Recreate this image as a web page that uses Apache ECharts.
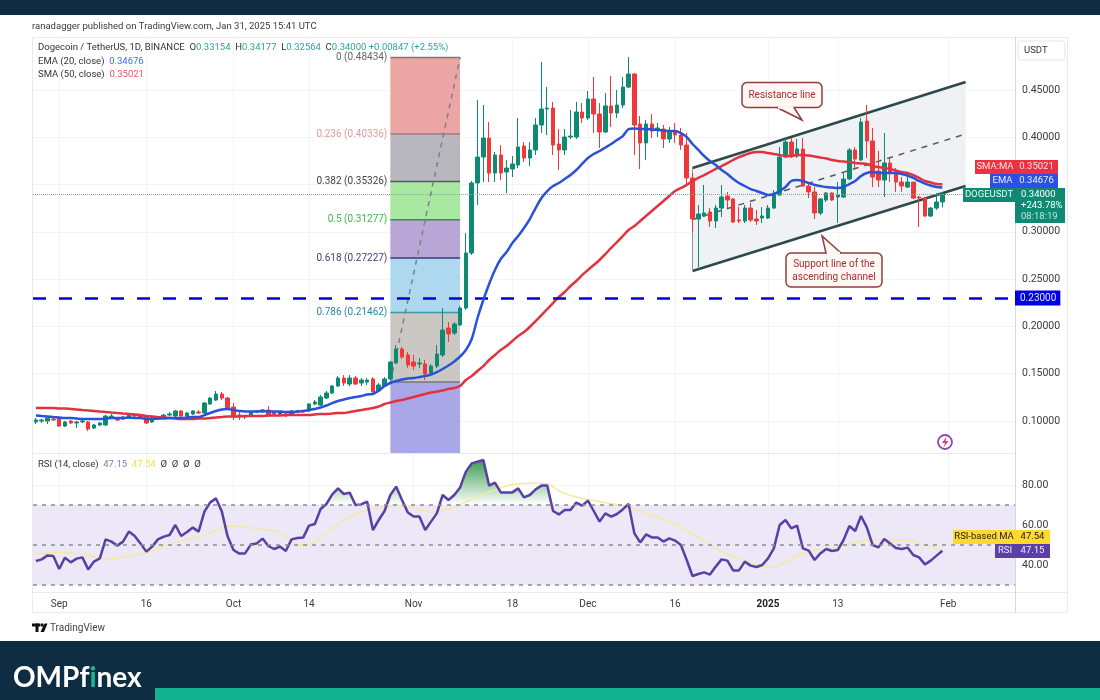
<!DOCTYPE html>
<html>
<head>
<meta charset="utf-8">
<title>DOGEUSDT</title>
<script src="https://cdn.jsdelivr.net/npm/echarts@6/dist/echarts.min.js"></script>
<style>
  html, body { margin: 0; padding: 0; background: #fff; }
  #chart { width: 1100px; height: 700px; }
</style>
</head>
<body>
<div id="chart"></div>
<script>
// daily candles, first one is 2024-08-28
const opens = [
  .0990,.1000,.1000,.1021,.1032,.0947,.1000,.0979,.0990,.0990,.0926,.0958,.0958,.1032,.1032,.1021,.1032,.1063,.1053,.1042,
  .0990,.1021,.1042,.1063,.1053,.1106,.1053,.1074,.1095,.1085,.1180,.1222,.1285,.1243,.1148,.1063,.1042,.1053,.1095,.1095,
  .1116,.1095,.1074,.1074,.1063,.1095,.1106,.1106,.1180,.1169,.1243,.1296,.1370,.1454,.1391,.1454,.1402,.1412,.1444,.1317,
  .1370,.1444,.1613,.1761,.1698,.1624,.1603,.1603,.1507,.1581,.1698,.1983,.1930,.2015,.2194,.2776,.3516,.3790,.3991,.3621,
  .3812,.3632,.3664,.3706,.3907,.3780,.3865,.4129,.4298,.4308,.3928,.3865,.4002,.4002,.4266,.4203,.4404,.4245,.4055,.4330,
  .4256,.4340,.4530,.4668,.4139,.3939,.4139,.4086,.4086,.3981,.4065,.4023,.3917,.3569,.3135,.3167,.3209,.3114,.3251,.3378,
  .3347,.3125,.3114,.3251,.3135,.3146,.3146,.3251,.3389,.3790,.3949,.3801,.3875,.3484,.3421,.3199,.3336,.3410,.3368,.3368,
  .3558,.3865,.3759,.4171,.3960,.3643,.3547,.3727,.3632,.3526,.3473,.3526,.3368,.3357,.3167,.3251,.33154
];
const closes = [
  .1011,.1011,.1032,.1011,.0947,.0990,.0979,.0990,.1000,.0916,.0958,.0979,.1053,.1053,.1011,.1042,.1074,.1053,.1032,.0979,
  .1032,.1042,.1063,.1074,.1106,.1053,.1085,.1106,.1085,.1190,.1243,.1285,.1243,.1137,.1042,.1053,.1053,.1095,.1106,.1116,
  .1063,.1074,.1095,.1053,.1106,.1106,.1095,.1180,.1201,.1254,.1296,.1370,.1454,.1402,.1454,.1391,.1433,.1433,.1307,.1381,
  .1444,.1624,.1761,.1677,.1592,.1581,.1613,.1497,.1581,.1708,.1962,.1920,.2025,.2194,.2776,.3516,.3790,.3991,.3621,.3812,
  .3621,.3674,.3717,.3896,.3780,.3865,.4129,.4298,.4308,.3917,.3865,.4002,.4012,.4266,.4203,.4404,.4245,.4055,.4330,.4256,
  .4340,.4530,.4668,.4129,.3939,.4139,.4065,.4097,.3981,.4065,.4023,.3917,.3569,.3135,.3188,.3199,.3114,.3251,.3368,.3336,
  .3103,.3114,.3251,.3125,.3114,.3167,.3251,.3389,.3790,.3949,.3801,.3875,.3484,.3421,.3199,.3347,.3410,.3336,.3389,.3558,
  .3865,.3769,.4160,.3960,.3579,.3547,.3727,.3632,.3526,.3484,.3526,.3357,.3357,.3167,.3251,.3315,.34000
];
const lows = [
  .0968,.0979,.0968,.1000,.0937,.0937,.0968,.0926,.0979,.0894,.0916,.0947,.0947,.1021,.1000,.1011,.1021,.1042,.1021,.0968,
  .0979,.1011,.1032,.1053,.1042,.1042,.1042,.1063,.1074,.1074,.1169,.1211,.1222,.1127,.1011,.1011,.1021,.1042,.1085,.1085,
  .1042,.1063,.1063,.1042,.1053,.1085,.1085,.1095,.1169,.1159,.1232,.1285,.1360,.1370,.1370,.1381,.1370,.1381,.1296,.1307,
  .1360,.1433,.1603,.1656,.1560,.1539,.1560,.1433,.1486,.1560,.1677,.1835,.1909,.2004,.2173,.2755,.3283,.3526,.3526,.3526,
  .3547,.3410,.3579,.3674,.3738,.3695,.3812,.4044,.4023,.3812,.3653,.3812,.3981,.3981,.4150,.4182,.4044,.3886,.4044,.4108,
  .4203,.4308,.4520,.3812,.3664,.3759,.3991,.4002,.3886,.3939,.3939,.3865,.3495,.2998,.2628,.3156,.3051,.3040,.3156,.3251,
  .3093,.3093,.3093,.3103,.3072,.3093,.3135,.3241,.3378,.3780,.3780,.3780,.3473,.3357,.3135,.3177,.3315,.3325,.3093,.3357,
  .3547,.3674,.3748,.3780,.3473,.3473,.3368,.3526,.3421,.3421,.3463,.3347,.3051,.3156,.3156,.3230,.32564
];
const highs = [
  .1032,.1021,.1042,.1032,.1042,.1000,.1011,.1000,.1011,.1000,.0968,.0990,.1063,.1074,.1042,.1053,.1085,.1074,.1063,.1053,
  .1042,.1053,.1074,.1095,.1116,.1116,.1095,.1116,.1116,.1201,.1254,.1317,.1307,.1254,.1190,.1095,.1063,.1106,.1116,.1127,
  .1159,.1106,.1106,.1085,.1116,.1116,.1116,.1190,.1222,.1275,.1317,.1381,.1476,.1486,.1486,.1476,.1454,.1454,.1465,.1402,
  .1465,.1634,.1803,.1782,.1730,.1698,.1666,.1645,.1603,.1803,.2194,.2046,.2046,.2215,.2987,.3537,.4393,.4340,.4160,.3843,
  .3917,.3759,.3801,.4203,.3949,.3949,.4203,.4795,.4530,.4372,.4086,.4086,.4287,.4372,.4361,.4488,.4636,.4361,.4467,.4647,
  .4499,.4636,.4848,.4679,.4224,.4182,.4245,.4150,.4129,.4108,.4150,.4097,.4044,.3621,.3283,.3495,.3251,.3283,.3495,.3421,
  .3357,.3262,.3283,.3304,.3230,.3262,.3283,.3442,.3896,.3991,.3991,.3981,.3991,.3505,.3473,.3357,.3421,.3421,.3526,.3632,
  .3886,.3896,.4203,.4340,.4097,.3854,.4044,.3780,.3674,.3579,.3579,.3526,.3378,.3368,.3262,.3410,.34177
];

const ema20 = [
  .1058,.1053,.1048,.1042,.1037,.1032,.1032,.1026,.1021,.1021,.1021,.1021,.1026,.1032,.1032,.1032,.1037,.1032,.1032,.1021,
  .1021,.1026,.1026,.1032,.1032,.1032,.1037,.1042,.1042,.1063,.1085,.1106,.1122,.1127,.1116,.1106,.1100,.1100,.1100,.1106,
  .1100,.1100,.1100,.1095,.1095,.1100,.1106,.1116,.1127,.1143,.1164,.1190,.1211,.1227,.1243,.1254,.1264,.1280,.1285,.1322,
  .1370,.1402,.1423,.1439,.1449,.1454,.1465,.1476,.1492,.1518,.1550,.1587,.1629,.1682,.1751,.1867,.2089,.2279,.2448,.2596,
  .2712,.2786,.2881,.2955,.3040,.3135,.3251,.3357,.3431,.3484,.3516,.3558,.3600,.3653,.3717,.3780,.3822,.3854,.3891,.3928,
  .3970,.4012,.4086,.4092,.4086,.4086,.4081,.4076,.4071,.4065,.4065,.4044,.4002,.3928,.3865,.3801,.3748,.3706,.3653,.3611,
  .3558,.3516,.3484,.3452,.3431,.3410,.3389,.3399,.3431,.3473,.3537,.3547,.3537,.3516,.3495,.3484,.3473,.3468,.3463,.3473,
  .3505,.3537,.3590,.3621,.3632,.3621,.3621,.3621,.3621,.3611,.3595,.3569,.3537,.3510,.3489,.3473,.34676
];
const sma50 = [
  .1137,.1137,.1137,.1137,.1132,.1132,.1127,.1122,.1116,.1111,.1106,.1100,.1095,.1090,.1085,.1079,.1074,.1069,.1063,.1053,
  .1048,.1042,.1037,.1032,.1026,.1021,.1021,.1021,.1026,.1026,.1032,.1037,.1042,.1048,.1048,.1048,.1053,.1053,.1053,.1053,
  .1058,.1058,.1058,.1063,.1063,.1063,.1063,.1063,.1069,.1074,.1074,.1079,.1085,.1085,.1095,.1106,.1116,.1127,.1137,.1153,
  .1180,.1196,.1211,.1222,.1238,.1254,.1270,.1285,.1301,.1312,.1322,.1338,.1349,.1370,.1433,.1476,.1529,.1581,.1645,.1698,
  .1751,.1793,.1846,.1898,.1941,.1994,.2057,.2120,.2184,.2247,.2311,.2364,.2427,.2480,.2543,.2596,.2649,.2702,.2765,.2829,
  .2892,.2955,.3019,.3061,.3114,.3167,.3220,.3273,.3325,.3378,.3431,.3463,.3495,.3537,.3569,.3600,.3632,.3664,.3695,.3727,
  .3759,.3790,.3812,.3833,.3843,.3843,.3833,.3822,.3812,.3801,.3801,.3812,.3812,.3806,.3796,.3785,.3775,.3759,.3748,.3743,
  .3738,.3727,.3722,.3717,.3695,.3685,.3674,.3664,.3648,.3632,.3621,.3600,.3569,.3537,.3521,.3505,.35021
];
const rsi = [
  42,42.8,44.8,44.5,38,43.7,41.3,43.2,43.8,37.8,41.7,43.3,52.8,51.7,49.7,51.7,56.7,54.5,50.8,46.7,
  49.2,52.8,54.2,55,60,54.5,56.5,58.7,56.7,66.7,71.3,73.3,66.7,54.2,47.5,45.7,45.8,50.3,50.8,53.2,
  49.5,48,49.2,47,52.8,53.5,53.7,59.7,60.5,68,70.5,75.3,78.3,75.5,76.2,70,70.3,71.7,57.5,62.5,
  67,75,79.2,72.5,66.3,64.2,64.2,57.5,61.7,65.8,75,72.5,75,78.8,86.7,90.8,91.7,92.5,79.7,81.2,
  76.3,76.2,76.3,78.3,73.8,75,77.8,79.7,79.7,67,65.3,67.5,67.5,71.2,69.7,72.2,67,61.7,65.8,64.2,
  65.5,67.8,70.5,55.8,51.3,55.3,53.8,53.8,51.7,53.3,52.2,50,42.5,34.5,35.5,36.3,35.2,39.2,42.8,42.2,
  37.3,37.3,41.7,39.7,39,40,43.3,48.3,60,62.5,58.3,59.7,48.3,47.2,42.5,45.8,48,47,47.5,52.5,
  59.5,57,64.5,58.8,50,48.8,53,50.8,48.5,48,48.7,45,43.8,40.3,42.2,44.7,47.15
];
const rsiMa = [
  45.2,45.6,46,46.3,46.3,46.2,46,45.8,45.5,45,44.3,43,42.6,43,43.4,44,44.4,45,45.5,46,
  47,48,49.2,50.2,51.2,52,52.8,53.4,54,54.8,56,57.3,58.7,59.4,59.5,59.2,58.9,58.6,58.3,57.9,
  57.5,57,56.5,54.2,52,50,50,50.3,51.5,53.5,56,58.3,60.5,62.5,64,65.5,66.5,67.5,68.3,68.8,
  69.3,69.8,70,69.6,69,68.5,67.8,67,66.5,66.8,67.4,68,69,70.2,71.5,72.8,74,75.3,76.5,77.5,
  78.5,79.5,80.2,80.5,80.8,80.9,80.9,80.8,80.8,79,77,75.8,74.7,74,73.3,72.7,72.2,71.7,71.1,70.6,
  70.2,69.7,69.2,68,67,66,65,64,63,61.8,60.5,59.3,57,55.5,53.5,52,50,48,46.8,45.5,
  44.3,43,41.8,40.8,40.2,39.7,39,38.7,40,41.5,43,44.5,46,46.8,47.2,47.7,48,48.3,49,49.7,
  50.5,51.3,52,52.5,52.8,52.7,52.5,52.5,52.5,52.5,52.4,51.8,51,50.2,49.3,48.4,47.54
];

// fib retracement, drawn over these two days
const fibDays = [61, 73];
const fibPrices = [.48434, .40336, .35326, .31277, .27227, .21462, .1412, .0662];
const fibRatios = ['0', '0.236', '0.382', '0.5', '0.618', '0.786'];
const fibFills = ['#eba5a5', '#b7b7bd', '#a8e8a0', '#b8a6d6', '#aed8f0', '#cbc8c4', '#a9a7e8'];
const fibLines = ['#807878', '#a07a86', '#555a5e', '#3e8a4e', '#3a3a78', '#3a9aa6', '#77777a'];
const fibTextColors = ['#666666', '#e79a9a', '#444444', '#3db84a', '#4a3a7a', '#2a86a8'];

// ascending channel
const channelDays = [113, 160];
const channelUpper = [.3674, .4583];
const channelLower = [.2586, .3484];
const channelMid = [.3130, .4034];

const supportPrice = .23;
const lastPrice = .34;

const priceTicks = [.10, .15, .20, .25, .30, .35, .40, .45];
const shownPriceTicks = [.10, .15, .20, .25, .30, .40, .45];
const rsiTicks = [40, 60, 80];
const rsiLevels = [70, 50, 30];

const timeTickDays = ['2024-09-01', '2024-09-16', '2024-10-01', '2024-10-14', '2024-11-01', '2024-11-18',
  '2024-12-01', '2024-12-16', '2025-01-01', '2025-01-13', '2025-02-01'];
const timeTickTexts = ['Sep', '16', 'Oct', '14', 'Nov', '18', 'Dec', '16', '2025', '13', 'Feb'];

// category axis runs past the last candle, up to the price scale
const days = [];
for (let i = 0; i < 169; i++) {
  days.push(new Date(Date.UTC(2024, 7, 28 + i)).toISOString().slice(0, 10));
}

const UI_FONT = 'Roboto, "Liberation Sans", sans-serif';
const SMALL_FONT = '9.5px ' + UI_FONT;
const GREEN = '#0e8a72';
const RED = '#f0383b';
const GRID_LINE = '#f3f4f7';
const FRAME = '#e8eaee';

const candles = opens.map((o, i) => [o, closes[i], lows[i], highs[i]]);

function isTimeTick(index) {
  return timeTickDays.indexOf(days[index]) !== -1;
}

function timeLabel(value) {
  const text = timeTickTexts[timeTickDays.indexOf(value)];
  return text === '2025' ? '{bold|2025}' : text;
}

function renderFib(params, api) {
  const level = params.dataIndex;
  const leftTop = api.coord([fibDays[0], fibPrices[level]]);
  const rightBottom = api.coord([fibDays[1], fibPrices[level + 1]]);
  const children = [{
    type: 'rect',
    shape: { x: leftTop[0], y: leftTop[1], width: rightBottom[0] - leftTop[0], height: rightBottom[1] - leftTop[1] },
    style: { fill: fibFills[level] }
  }, {
    type: 'line',
    shape: { x1: leftTop[0], y1: leftTop[1], x2: rightBottom[0], y2: leftTop[1] },
    style: { stroke: fibLines[level], lineWidth: 1.5 }
  }];
  if (level < fibRatios.length) {
    children.push({
      type: 'text',
      style: {
        text: fibRatios[level] + ' (' + fibPrices[level].toFixed(5) + ')',
        x: leftTop[0] - 3,
        y: leftTop[1],
        align: 'right',
        verticalAlign: 'middle',
        fill: fibTextColors[level],
        font: '10px ' + UI_FONT
      }
    });
  }
  return { type: 'group', children: children };
}

function renderFibTrend(params, api) {
  const from = api.coord([fibDays[0], fibPrices[6]]);
  const to = api.coord([fibDays[1], fibPrices[0]]);
  return {
    type: 'line',
    shape: { x1: from[0], y1: from[1], x2: to[0], y2: to[1] },
    style: { stroke: '#7d8086', lineWidth: 1.5, lineDash: [5, 5] }
  };
}

function renderChannel(params, api) {
  const a = channelDays[0], b = channelDays[1];
  const upperA = api.coord([a, channelUpper[0]]), upperB = api.coord([b, channelUpper[1]]);
  const lowerA = api.coord([a, channelLower[0]]), lowerB = api.coord([b, channelLower[1]]);
  const midA = api.coord([a, channelMid[0]]), midB = api.coord([b, channelMid[1]]);
  const edge = { stroke: '#2c4a4a', lineWidth: 2.5 };
  return {
    type: 'group',
    children: [
      { type: 'polygon', shape: { points: [upperA, upperB, lowerB, lowerA] }, style: { fill: '#eff1f4' } },
      { type: 'line', shape: { x1: upperA[0], y1: upperA[1], x2: upperB[0], y2: upperB[1] }, style: edge },
      { type: 'line', shape: { x1: lowerA[0], y1: lowerA[1], x2: lowerB[0], y2: lowerB[1] }, style: edge },
      { type: 'line', shape: { x1: upperA[0], y1: upperA[1], x2: lowerA[0], y2: lowerA[1] }, style: { stroke: '#8a9a9a', lineWidth: 1 } },
      { type: 'line', shape: { x1: midA[0], y1: midA[1], x2: midB[0], y2: midB[1] }, style: { stroke: '#555a5e', lineWidth: 1.5, lineDash: [6, 6] } }
    ]
  };
}

// price tags next to the scale, stacked like tradingview does, not at their real height
function tag(x, y, w, h, text, fill, color) {
  return [{
    type: 'rect', z: 50,
    shape: { x: x, y: y, width: w, height: h },
    style: { fill: fill }
  }, {
    type: 'text', z: 51,
    x: x + w / 2, y: y + h / 2,
    style: { text: text, fill: color, align: 'center', verticalAlign: 'middle', font: SMALL_FONT }
  }];
}

function plainText(x, y, text, fill, font) {
  return {
    type: 'text', z: 51, x: x, y: y,
    style: { text: text, fill: fill, verticalAlign: 'middle', font: font }
  };
}

function richRow(x, y, text) {
  return {
    type: 'text', z: 51, x: x, y: y,
    style: {
      text: text,
      verticalAlign: 'middle',
      font: SMALL_FONT,
      fill: '#333',
      rich: {
        d: { fill: '#333', font: SMALL_FONT },
        g: { fill: '#2aa796', font: SMALL_FONT },
        b: { fill: '#3f6fe0', font: SMALL_FONT },
        r: { fill: '#f2525a', font: SMALL_FONT },
        p: { fill: '#8878b8', font: SMALL_FONT },
        y: { fill: '#f0e060', font: SMALL_FONT }
      }
    }
  };
}

// speech bubble: rounded box, pointer triangle, then a stroke-less patch over the joint
function callout(box, pointer, textY, lines) {
  const items = [{
    type: 'rect', z: 50,
    shape: { x: box[0], y: box[1], width: box[2], height: box[3], r: 5 },
    style: { fill: '#fff7f4', stroke: '#8c3f3f', lineWidth: 1.5 }
  }, {
    type: 'polyline', z: 51,
    shape: { points: pointer },
    style: { fill: '#fff7f4', stroke: '#8c3f3f', lineWidth: 1.5 }
  }, {
    type: 'line', z: 52,
    shape: { x1: pointer[0][0] + 1, y1: pointer[0][1], x2: pointer[2][0] - 1, y2: pointer[2][1] },
    style: { stroke: '#fff7f4', lineWidth: 2.5 }
  }];
  lines.forEach((line, i) => {
    items.push({
      type: 'text', z: 53,
      x: box[0] + box[2] / 2, y: textY + i * 13,
      style: { text: line, fill: '#a8302f', align: 'center', verticalAlign: 'middle', font: '10px ' + UI_FONT }
    });
  });
  return items;
}

const graphicItems = [
  // page bands
  { type: 'rect', z: 0, shape: { x: 0, y: 0, width: 1100, height: 15 }, style: { fill: '#0f2d42' } },
  { type: 'rect', z: 0, shape: { x: 0, y: 641, width: 1100, height: 59 }, style: { fill: '#0f2d42' } },
  { type: 'rect', z: 1, shape: { x: 155, y: 688, width: 945, height: 12 }, style: { fill: '#10b290' } },
  // chart frame
  { type: 'rect', z: 0, shape: { x: 32.5, y: 37.5, width: 1035, height: 575 }, style: { fill: 'none', stroke: FRAME, lineWidth: 1 } },
  { type: 'line', z: 0, shape: { x1: 32, y1: 592.5, x2: 1068, y2: 592.5 }, style: { stroke: FRAME, lineWidth: 1 } },
  { type: 'line', z: 0, shape: { x1: 1015.5, y1: 592, x2: 1015.5, y2: 613 }, style: { stroke: '#d4d7dc', lineWidth: 1 } },

  plainText(32, 27, 'ranadagger published on TradingView.com, Jan 31, 2025 15:41 UTC', '#3a3a3a', SMALL_FONT),
  richRow(38, 48, '{d|Dogecoin / TetherUS, 1D, BINANCE  O}{g|0.33154} {d| H}{g|0.34177} {d| L}{g|0.32564} {d| C}{g|0.34000}{g| +0.00847 (+2.55%)}'),
  richRow(38, 62, '{d|EMA (20, close)}  {b|0.34676}'),
  richRow(38, 75, '{d|SMA (50, close)}  {r|0.35021}'),
  richRow(38, 465, '{d|RSI (14, close)}  {p|47.15}  {y|47.54}  {d|Ø  Ø  Ø  Ø}'),

  // USDT box
  { type: 'rect', z: 50, shape: { x: 1018, y: 41, width: 47, height: 19, r: 3 }, style: { fill: '#fff', stroke: '#e3e5ea', lineWidth: 1 } },
  plainText(1024, 51, 'USDT', '#333', SMALL_FONT),

  ...tag(975, 160, 40, 14, 'SMA:MA', '#ef3040', '#ffe6e6'),
  ...tag(1015, 160, 43, 14, '0.35021', '#ef3040', '#ffe6e6'),
  ...tag(990, 174, 25, 14, 'EMA', '#2a50e8', '#e6ecff'),
  ...tag(1015, 174, 43, 14, '0.34676', '#2a50e8', '#e6ecff'),
  ...tag(963, 188, 52, 14, 'DOGEUSDT', GREEN, '#e6fff8'),
  { type: 'rect', z: 50, shape: { x: 1015, y: 188, width: 50, height: 35 }, style: { fill: GREEN } },
  plainText(1021, 195, '0.34000', '#fff', SMALL_FONT),
  plainText(1021, 206, '+243.78%', '#fff', SMALL_FONT),
  plainText(1021, 217, '08:18:19', '#bfe6dc', SMALL_FONT),

  ...tag(953, 530, 62, 14, 'RSI-based MA', '#ffd92e', '#222'),
  ...tag(1015, 530, 35, 14, '47.54', '#ffd92e', '#222'),
  ...tag(995, 544, 20, 14, 'RSI', '#5a3fa8', '#efeaff'),
  ...tag(1015, 544, 35, 14, '47.15', '#5a3fa8', '#efeaff'),

  ...callout([742, 82.5, 80, 25], [[777, 107.5], [802, 120], [794, 107.5]], 95, ['Resistance line']),
  ...callout([786, 253, 96, 34], [[826, 253], [822, 236], [841, 253]], 264, ['Support line of the', 'ascending channel']),

  // the little lightning badge
  { type: 'circle', z: 50, shape: { cx: 945, cy: 442, r: 7 }, style: { fill: '#fff', stroke: '#8e4bb0', lineWidth: 1.8 } },
  { type: 'polygon', z: 51, shape: { points: [[946.5, 436.5], [942, 443], [945, 443], [943.5, 447.5], [948.5, 441], [945.5, 441]] }, style: { fill: '#d8407a' } },

  // tradingview mark
  { type: 'rect', z: 50, shape: { x: 32, y: 623.5, width: 8, height: 3 }, style: { fill: '#111' } },
  { type: 'rect', z: 50, shape: { x: 35.5, y: 623.5, width: 3, height: 8.5 }, style: { fill: '#111' } },
  { type: 'circle', z: 50, shape: { cx: 42, cy: 625, r: 1.7 }, style: { fill: '#111' } },
  { type: 'polygon', z: 50, shape: { points: [[44.5, 623.5], [47.5, 623.5], [44, 632], [40.5, 632]] }, style: { fill: '#111' } },
  plainText(50, 628, 'TradingView', '#444', '10px ' + UI_FONT),

  // site name
  {
    type: 'text', z: 51, x: 13, y: 678,
    style: {
      text: '{w|OMPf}{t|i}{w|nex}',
      verticalAlign: 'middle',
      rich: {
        w: { fill: '#fff', font: 'bold 28px Lato, "Open Sans", sans-serif' },
        t: { fill: '#17b896', font: 'bold 28px Lato, "Open Sans", sans-serif' }
      }
    }
  }
];

const option = {
  animation: false,
  backgroundColor: '#fff',
  textStyle: { fontFamily: UI_FONT },
  grid: [
    { left: 33, right: 85, top: 37, bottom: 247 },
    { left: 33, right: 85, top: 453, bottom: 108 }
  ],
  xAxis: [0, 1].map((gridIndex) => ({
    type: 'category',
    gridIndex: gridIndex,
    data: days,
    boundaryGap: true,
    axisLine: { show: gridIndex === 0, lineStyle: { color: FRAME } },
    axisTick: { show: false, alignWithLabel: true, interval: isTimeTick },
    splitLine: { show: true, alignWithLabel: true, interval: isTimeTick, lineStyle: { color: GRID_LINE } },
    axisLabel: gridIndex === 0 ? { show: false, interval: isTimeTick } : {
      interval: isTimeTick,
      formatter: timeLabel,
      color: '#3a3a3a',
      fontSize: 10,
      margin: 7,
      rich: { bold: { fontWeight: 'bold', fontSize: 10, color: '#222' } }
    }
  })),
  yAxis: [{
    type: 'value',
    gridIndex: 0,
    position: 'right',
    min: .0662,
    max: .5059,
    axisLine: { show: true, lineStyle: { color: '#d4d7dc' } },
    axisTick: { show: false, customValues: priceTicks },
    splitLine: { show: true, lineStyle: { color: GRID_LINE } },
    axisLabel: { customValues: shownPriceTicks, formatter: (v) => v.toFixed(5), color: '#3a3a3a', fontSize: 10.5, margin: 7 }
  }, {
    type: 'value',
    gridIndex: 1,
    position: 'right',
    min: 26.5,
    max: 96,
    axisLine: { show: true, lineStyle: { color: '#d4d7dc' } },
    axisTick: { show: false, customValues: rsiTicks },
    splitLine: { show: true, lineStyle: { color: GRID_LINE } },
    axisLabel: { customValues: rsiTicks, formatter: (v) => v.toFixed(2), color: '#3a3a3a', fontSize: 10.5, margin: 7 }
  }],
  graphic: { elements: graphicItems },
  series: [{
    type: 'custom',
    name: 'Channel',
    z: 1,
    xAxisIndex: 0,
    yAxisIndex: 0,
    renderItem: renderChannel,
    data: [[channelDays[0], channelUpper[0]]],
    silent: true
  }, {
    type: 'custom',
    name: 'Fib',
    z: 1,
    xAxisIndex: 0,
    yAxisIndex: 0,
    renderItem: renderFib,
    data: fibFills.map((f, i) => [fibDays[0], fibPrices[i]]),
    silent: true
  }, {
    type: 'candlestick',
    name: 'DOGEUSDT',
    z: 3,
    xAxisIndex: 0,
    yAxisIndex: 0,
    barWidth: 4,
    data: candles,
    itemStyle: { color: GREEN, color0: RED, borderColor: GREEN, borderColor0: RED, borderWidth: 1 },
    markLine: {
      silent: true,
      symbol: 'none',
      animation: false,
      data: [{
        yAxis: supportPrice,
        lineStyle: { color: '#0000d8', type: [13, 13], width: 2.5 },
        label: {
          position: 'end', distance: 0,
          formatter: supportPrice.toFixed(5),
          color: '#dfe4ff', fontSize: 10, backgroundColor: '#0000e0', padding: [3, 4, 2, 5]
        }
      }, {
        yAxis: lastPrice,
        lineStyle: { color: '#8aa3a0', type: 'dotted', width: 1 },
        label: { show: false }
      }]
    }
  }, {
    type: 'custom',
    name: 'Fib trend',
    z: 3,
    xAxisIndex: 0,
    yAxisIndex: 0,
    renderItem: renderFibTrend,
    data: [[fibDays[0], fibPrices[6]]],
    silent: true
  }, {
    type: 'line',
    name: 'SMA 50',
    z: 4,
    xAxisIndex: 0,
    yAxisIndex: 0,
    data: sma50,
    symbol: 'none',
    smooth: 0.3,
    lineStyle: { color: '#e0323f', width: 2.5 }
  }, {
    type: 'line',
    name: 'EMA 20',
    z: 5,
    xAxisIndex: 0,
    yAxisIndex: 0,
    data: ema20,
    symbol: 'none',
    smooth: 0.3,
    lineStyle: { color: '#2a52d8', width: 2.5 }
  }, {
    // overbought fill, only where rsi is above the 70 band
    type: 'line',
    name: 'RSI overbought',
    z: 2,
    xAxisIndex: 1,
    yAxisIndex: 1,
    data: rsi.map((v) => Math.max(v, rsiLevels[0])),
    symbol: 'none',
    lineStyle: { width: 0 },
    areaStyle: {
      origin: rsiLevels[0],
      opacity: 1,
      color: {
        type: 'linear', x: 0, y: 458, x2: 0, y2: 505, global: true,
        colorStops: [{ offset: 0, color: '#2f9a48' }, { offset: 1, color: '#ffffff' }]
      }
    }
  }, {
    type: 'line',
    name: 'RSI MA',
    z: 3,
    xAxisIndex: 1,
    yAxisIndex: 1,
    data: rsiMa,
    symbol: 'none',
    lineStyle: { color: '#f5e9a0', width: 1.5 }
  }, {
    type: 'line',
    name: 'RSI',
    z: 4,
    xAxisIndex: 1,
    yAxisIndex: 1,
    data: rsi,
    symbol: 'none',
    lineStyle: { color: '#5b3fa5', width: 2.5 },
    markArea: {
      silent: true,
      itemStyle: { color: '#ece8f8' },
      data: [[{ yAxis: rsiLevels[0] }, { yAxis: rsiLevels[2] }]],
      z: 1
    },
    markLine: {
      silent: true,
      symbol: 'none',
      label: { show: false },
      lineStyle: { color: '#8a8c92', type: [4, 5], width: 1.5 },
      data: rsiLevels.map((level) => ({ yAxis: level }))
    }
  }]
};

const chart = echarts.init(document.getElementById('chart'));
chart.setOption(option);
</script>
</body>
</html>
